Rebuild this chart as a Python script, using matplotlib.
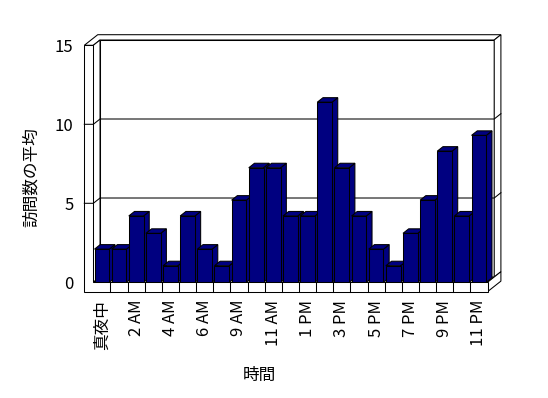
import matplotlib
matplotlib.use('Agg')
import matplotlib.pyplot as plt
from matplotlib.patches import Polygon

plt.rcParams['font.family'] = ['Noto Sans CJK JP', 'DejaVu Sans']

# data
hours = ['真夜中', '1 AM', '2 AM', '3 AM', '4 AM', '5 AM', '6 AM', '7 AM',
         '9 AM', '10 AM', '11 AM', '正午', '1 PM', '2 PM', '3 PM', '4 PM',
         '5 PM', '6 PM', '7 PM', '8 PM', '9 PM', '10 PM', '11 PM']
visits = [2.1, 2.1, 4.2, 3.1, 1.05, 4.2, 2.1, 1.05, 5.2, 7.25, 7.25, 4.2,
          4.2, 11.4, 7.25, 4.2, 2.1, 1.05, 3.1, 5.2, 8.3, 4.2, 9.3]
yticks = [0, 5, 10, 15]

navy = '#000080'
lw = 0.75

fig = plt.figure(figsize=(5.48, 3.98), dpi=100)
ax = fig.add_axes([0.1703, 0.2907, 0.7193, 0.5955])
n = len(hours)
ymax = yticks[-1]
ax.set_xlim(-0.5, n - 0.5)
ax.set_ylim(0, ymax)
ax.patch.set_visible(False)
for s in ax.spines.values():
    s.set_visible(False)

# oblique depth step (one unit of depth) in data units
DX, DY = 0.391, 0.335
wall = 0.525          # left wall thickness (category units)
slab = 0.595          # floor thickness (value units)
x0, x1 = -0.5, n - 0.5


def P(x, y, z):
    return (x + z * DX, y + z * DY)


def poly(pts, fc='white', z=1):
    ax.add_patch(Polygon(pts, closed=True, facecolor=fc, edgecolor='black',
                         linewidth=lw, zorder=z, clip_on=False))


# back wall
poly([P(x0, 0, 1), P(x1, 0, 1), P(x1, ymax, 1), P(x0, ymax, 1)], z=1)
# top of walls
poly([P(x0 - wall, ymax, 0), P(x0, ymax, 0), P(x0, ymax, 1), P(x1, ymax, 1),
      P(x1, ymax, 2), P(x0 - wall, ymax, 2)], z=1)
# left wall inner face
poly([P(x0, 0, 0), P(x0, ymax, 0), P(x0, ymax, 1), P(x0, 0, 1)], z=1)
# right side of back wall
poly([P(x1, 0, 1), P(x1, ymax, 1), P(x1, ymax, 2), P(x1, 0, 2)], z=1)
# floor top and right end
poly([P(x0, 0, 0), P(x1, 0, 0), P(x1, 0, 1), P(x0, 0, 1)], z=1)
poly([P(x1, 0, 0), P(x1, -slab, 0), P(x1, -slab, 2), P(x1, 0, 2)], z=1)
# front L frame (left wall + floor front)
poly([P(x0 - wall, ymax, 0), P(x0, ymax, 0), P(x0, 0, 0), P(x1, 0, 0),
      P(x1, -slab, 0), P(x0 - wall, -slab, 0)], z=2)

# gridlines on walls and ticks on wall front
for v in yticks[1:-1]:
    xs, ys = zip(P(x0 - wall, v, 0), P(x0, v, 0), P(x0, v, 1), P(x1, v, 1), P(x1, v, 2))
    ax.plot(xs, ys, color='black', lw=lw, zorder=3, clip_on=False)
# category ticks on floor front
for k in range(1, n):
    ax.plot([k - 0.5, k - 0.5], [0, -slab], color='black', lw=lw, zorder=3, clip_on=False)

# bars
bd = 0.85
bars = ax.bar(range(n), visits, width=0.86, color=navy, edgecolor='black', linewidth=lw)
for i, b in enumerate(bars):
    l = b.get_x()
    r = l + b.get_width()
    h = b.get_height()
    b.set_zorder(10 + 3 * i + 1)
    poly([P(r, 0, 0), P(r, h, 0), P(r, h, bd), P(r, 0, bd)], fc=navy, z=10 + 3 * i)
    poly([P(l, h, 0), P(r, h, 0), P(r, h, bd), P(l, h, bd)], fc=navy, z=10 + 3 * i)

ax.set_yticks(yticks)
ax.set_yticklabels([str(v) for v in yticks])
ax.set_xticks(range(0, n, 2))
ax.set_xticklabels(hours[::2])
ax.tick_params(axis='y', length=0, pad=14.4, labelsize=12)
ax.tick_params(axis='x', length=0, pad=12.7, labelsize=12, labelrotation=90)

ax.set_ylabel('訪問数の平均', fontsize=12)
ax.yaxis.set_label_coords(-0.135, 0.444)
ax.set_xlabel('時間', fontsize=12)
ax.xaxis.set_label_coords(0.422, -0.357)

fig.savefig('out.png', dpi=100)
